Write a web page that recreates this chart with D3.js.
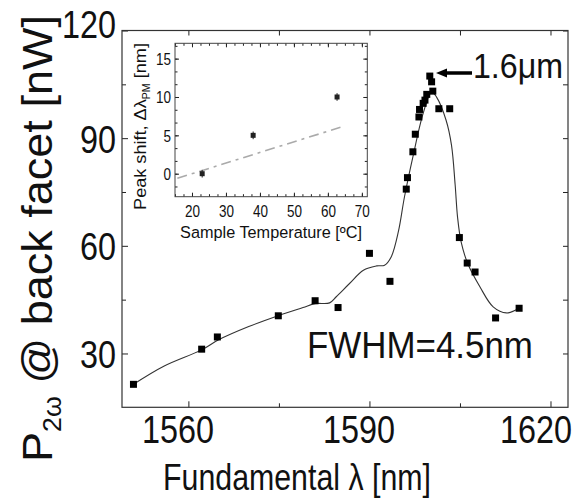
<!DOCTYPE html>
<html>
<head>
<meta charset="utf-8">
<script src="https://cdn.jsdelivr.net/npm/d3@7"></script>
<style>
    body { margin: 0; background: #fff; }
    text { font-family: "Liberation Sans", Arial, sans-serif; fill: #111; }
</style>
</head>
<body>
<svg id="chart" width="580" height="499"></svg>
<script>
// measured SH power vs fundamental wavelength
const lambda = [1550.9, 1562.2, 1564.8, 1574.9, 1581.0, 1584.8, 1590.0, 1593.4,
    1596.1, 1596.3, 1597.2, 1597.6, 1598.2, 1598.3, 1598.9, 1599.2, 1599.5,
    1600.0, 1600.3, 1600.5, 1601.5, 1603.3, 1604.9, 1606.2, 1607.5, 1610.9, 1614.8];
const power = [21.4, 31.2, 34.6, 40.5, 44.7, 42.8, 57.9, 50.1,
    75.8, 79.0, 86.2, 91.1, 95.9, 98.0, 99.7, 100.6, 102.2,
    107.3, 105.7, 103.1, 98.2, 98.2, 62.3, 55.2, 52.7, 39.9, 42.6];
// fitted curve
const fitLambda = [1550.9, 1556, 1562.2, 1565, 1570, 1575, 1579, 1581, 1583.4, 1584.5,
    1586.7, 1589, 1591.2, 1592.5, 1593.6, 1594.8, 1595.8, 1597.2, 1598.9, 1600.3,
    1601.1, 1602.7, 1603.6, 1604.2, 1604.6, 1605.2, 1606.3, 1608.3, 1610.5, 1612.7, 1614.8];
const fitPower = [21.4, 26.5, 31.0, 33.8, 37.5, 40.6, 42.8, 43.9, 44.1, 45.8,
    49.5, 53.2, 54.4, 54.6, 56.9, 64, 73.6, 84.8, 96.9, 102.9,
    101.5, 95, 88, 77, 68, 61, 55, 48.6, 43, 41.3, 42.6];
const mainXTicks = [1560, 1590, 1620];
const mainXMinor = [1575, 1605];
const mainYTicks = [30, 60, 90, 120];
const mainYMinor = [45, 75, 105];

// inset: peak shift vs temperature
const temps = [23, 38, 62.7];
const shifts = [0, 5, 10];
const shiftErr = [0.5, 0.5, 0.5];
const trendTemp = [15.7, 63.7];
const trendShift = [-0.6, 6.05];
const insetXTicks = [20, 30, 40, 50, 60, 70];
const insetYTicks = [0, 5, 10, 15];

const svg = d3.select("#chart");

// shrink a text horizontally so it spans the given width
function fitWidth(textSel, w) {
    const n = textSel.node().getComputedTextLength();
    textSel.attr("transform", `scale(${w / n},1)`);
}

// the tick labels are a condensed face, so squeeze them around their anchor
const SQ = 0.83;

// ---------- main plot ----------
const x = d3.scaleLinear().domain([1549, 1622.9]).range([122, 568]);
const y = d3.scaleLinear().domain([15, 120]).range([407.3, 30.5]);

// tick marks on all four sides, inward
function ticks(axis, pos, values, len) {
    const g = svg.append("g").attr("transform", pos)
        .call(axis.tickValues(values).tickSize(-len).tickFormat(""));
    g.select(".domain").remove();
    g.selectAll("line").attr("stroke", "#222");
    return g;
}
ticks(d3.axisBottom(x), "translate(0,407.3)", mainXMinor, 4);
ticks(d3.axisTop(x), "translate(0,30.5)", mainXTicks.concat(mainXMinor), 5);
ticks(d3.axisLeft(y), "translate(122,0)", mainYMinor, 4);
ticks(d3.axisRight(y), "translate(568,0)", mainYTicks.concat(mainYMinor), 5);

const xAxis = svg.append("g").attr("transform", "translate(0,407.3)")
    .call(d3.axisBottom(x).tickValues(mainXTicks).tickSize(-6).tickFormat(d3.format("d")));
xAxis.select(".domain").remove();
xAxis.selectAll("line").attr("stroke", "#222");
xAxis.selectAll("text")
    .attr("y", 36).attr("dy", null)
    .attr("x", d => (d === 1620 ? -15 : -11) / SQ)
    .attr("transform", `scale(${SQ},1)`)
    .attr("font-family", null).attr("fill", "#111")
    .style("font-size", "39px");

const yAxis = svg.append("g").attr("transform", "translate(122,0)")
    .call(d3.axisLeft(y).tickValues(mainYTicks).tickSize(-6).tickFormat(d3.format("d")));
yAxis.select(".domain").remove();
yAxis.selectAll("line").attr("stroke", "#222");
yAxis.selectAll("text")
    .attr("x", -6 / SQ).attr("dy", "0.36em")
    .attr("y", d => d === 120 ? -7 : 0)
    .attr("transform", `scale(${SQ},1)`)
    .attr("font-family", null).attr("fill", "#111")
    .style("font-size", "39px");

// frame
svg.append("rect")
    .attr("x", x.range()[0]).attr("y", y.range()[1])
    .attr("width", x.range()[1] - x.range()[0])
    .attr("height", y.range()[0] - y.range()[1])
    .attr("fill", "none").attr("stroke", "#333").attr("stroke-width", 1.2);

// fit curve
const fitLine = d3.line()
    .x((d, i) => x(fitLambda[i]))
    .y(d => y(d))
    .curve(d3.curveCatmullRom.alpha(0.5));
svg.append("path").datum(fitPower)
    .attr("d", fitLine)
    .attr("fill", "none").attr("stroke", "#333").attr("stroke-width", 1.1);

// data squares
svg.append("g").selectAll("rect").data(power).join("rect")
    .attr("x", (d, i) => x(lambda[i]) - 3.5)
    .attr("y", d => y(d) - 3.5)
    .attr("width", 7).attr("height", 7)
    .attr("fill", "#000");

// annotations
const fwhm = svg.append("g").attr("transform", "translate(307,358)")
    .append("text").style("font-size", "36.5px").text("FWHM=4.5nm");
fitWidth(fwhm, 226);

const peakLabel = svg.append("g").attr("transform", "translate(473,78)")
    .append("text").style("font-size", "36px").text("1.6μm");
fitWidth(peakLabel, 90);

// arrow to the peak point
svg.append("line")
    .attr("x1", 472).attr("y1", 73).attr("x2", 444).attr("y2", 73)
    .attr("stroke", "#000").attr("stroke-width", 3.5);
svg.append("path")
    .attr("d", "M436,73 L447,68.5 L447,77.5 Z")
    .attr("fill", "#000");

// axis titles
const xTitle = svg.append("g").attr("transform", "translate(297,490)")
    .append("text").attr("text-anchor", "middle").style("font-size", "37px")
    .text("Fundamental λ [nm]");
fitWidth(xTitle, 268);

const yTitle = svg.append("g").attr("transform", "translate(52,238.5) rotate(-90)")
    .append("text").attr("text-anchor", "middle").style("font-size", "42px");
yTitle.append("tspan").text("P");
yTitle.append("tspan").attr("dy", 9).style("font-size", "25px").text("2ω");
yTitle.append("tspan").attr("dy", -9).text(" @ back facet [nW]");
fitWidth(yTitle, 447);

// ---------- inset ----------
const ix = d3.scaleLinear().domain([15, 71.6]).range([175, 367.3]);
const iy = d3.scaleLinear().domain([-3, 17]).range([196.7, 43.3]);

svg.append("rect")
    .attr("x", ix.range()[0]).attr("y", iy.range()[1])
    .attr("width", ix.range()[1] - ix.range()[0])
    .attr("height", iy.range()[0] - iy.range()[1])
    .attr("fill", "#fff");

// minor ticks: quarters of 10 on x, thirds of 5 on y
const insetXMinor = d3.range(15, 71.6, 2.5);
const insetYMinor = d3.range(-5 / 3, 17, 5 / 3);
ticks(d3.axisBottom(ix), "translate(0,196.7)", insetXMinor, 2.5);
ticks(d3.axisTop(ix), "translate(0,43.3)", insetXMinor, 2.5);
ticks(d3.axisLeft(iy), "translate(175,0)", insetYMinor, 2.5);
ticks(d3.axisRight(iy), "translate(367.3,0)", insetYMinor, 2.5);
ticks(d3.axisTop(ix), "translate(0,43.3)", insetXTicks, 4);
ticks(d3.axisRight(iy), "translate(367.3,0)", insetYTicks, 4);

const ixAxis = svg.append("g").attr("transform", "translate(0,196.7)")
    .call(d3.axisBottom(ix).tickValues(insetXTicks).tickSize(-4));
ixAxis.select(".domain").remove();
ixAxis.selectAll("line").attr("stroke", "#222");
ixAxis.selectAll("text")
    .attr("y", 20).attr("dy", null)
    .attr("font-family", null).attr("fill", "#111")
    .style("font-size", "16px")
    .attr("textLength", 15).attr("lengthAdjust", "spacingAndGlyphs");

const iyAxis = svg.append("g").attr("transform", "translate(175,0)")
    .call(d3.axisLeft(iy).tickValues(insetYTicks).tickSize(-4));
iyAxis.select(".domain").remove();
iyAxis.selectAll("line").attr("stroke", "#222");
iyAxis.selectAll("text")
    .attr("x", -4).attr("dy", "0.36em")
    .attr("font-family", null).attr("fill", "#111")
    .style("font-size", "16px")
    .attr("textLength", d => String(d).length * 7.5)
    .attr("lengthAdjust", "spacingAndGlyphs");

svg.append("rect")
    .attr("x", ix.range()[0]).attr("y", iy.range()[1])
    .attr("width", ix.range()[1] - ix.range()[0])
    .attr("height", iy.range()[0] - iy.range()[1])
    .attr("fill", "none").attr("stroke", "#444").attr("stroke-width", 1);

// linear trend (dash-dot, grey)
svg.append("path").datum(trendShift)
    .attr("d", d3.line().x((d, i) => ix(trendTemp[i])).y(d => iy(d)))
    .attr("fill", "none").attr("stroke", "#aaa").attr("stroke-width", 1.6)
    .attr("stroke-dasharray", "10,5,3,5");

// error bars and points
const ipts = svg.append("g");
ipts.selectAll("line").data(shifts).join("line")
    .attr("x1", (d, i) => ix(temps[i])).attr("x2", (d, i) => ix(temps[i]))
    .attr("y1", (d, i) => iy(d - shiftErr[i])).attr("y2", (d, i) => iy(d + shiftErr[i]))
    .attr("stroke", "#222").attr("stroke-width", 1);
ipts.selectAll("rect").data(shifts).join("rect")
    .attr("x", (d, i) => ix(temps[i]) - 2.5).attr("y", d => iy(d) - 2.5)
    .attr("width", 5).attr("height", 5)
    .attr("fill", "#222");

const ixTitle = svg.append("g").attr("transform", "translate(271,238)")
    .append("text").attr("text-anchor", "middle").style("font-size", "16.5px")
    .text("Sample Temperature [ºC]");
fitWidth(ixTitle, 182);

const iyTitle = svg.append("g").attr("transform", "translate(146,126.5) rotate(-90)")
    .append("text").attr("text-anchor", "middle").style("font-size", "17px");
iyTitle.append("tspan").text("Peak shift, Δλ");
iyTitle.append("tspan").attr("dy", 4).style("font-size", "10px").text("PM");
iyTitle.append("tspan").attr("dy", -4).text(" [nm]");
fitWidth(iyTitle, 167);
</script>
</body>
</html>
